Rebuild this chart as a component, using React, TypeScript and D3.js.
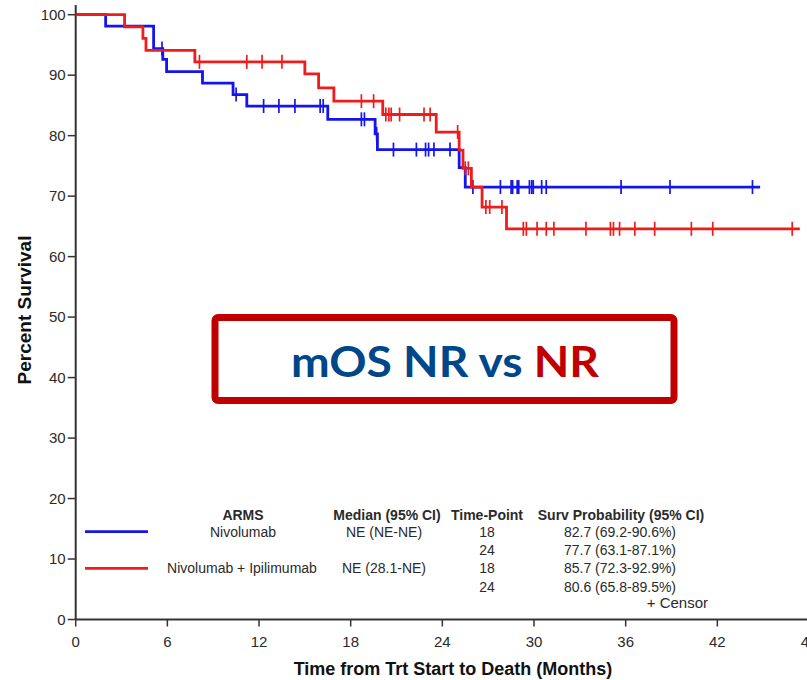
import React from "react";
import * as d3 from "d3";

// Kaplan–Meier overall survival, two treatment arms
const nivoEventTimes = [1.96, 5.1, 5.7, 5.95, 8.3, 10.3, 11.2, 16.5, 19.6, 19.75, 25.1, 25.5];
const nivoEventSurv = [98.1, 94.4, 92.6, 90.6, 88.7, 86.8, 84.9, 82.7, 80.3, 77.7, 74.7, 71.5];
const nivoCensorTimes = [
  5.65, 10.5, 12.3, 13.3, 14.35, 16.0, 16.2, 18.7, 18.9, 19.7, 20.8, 22.3, 22.9, 23.1, 23.45, 24.5,
  26.0, 27.8, 28.5, 28.6, 28.9, 29.0, 29.7, 29.85, 29.95, 30.5, 30.8, 35.7, 38.9, 44.3,
];
const nivoLastFollowUp = 44.8;

const comboEventTimes = [3.2, 4.4, 4.6, 7.8, 15.0, 15.9, 16.9, 20.1, 23.6, 25.1, 25.35, 25.9, 26.6, 28.2];
const comboEventSurv = [98.0, 96.1, 94.1, 92.2, 90.2, 87.9, 85.7, 83.5, 80.6, 77.6, 74.6, 71.5, 68.2, 64.6];
const comboCensorTimes = [
  8.1, 11.2, 12.2, 13.5, 18.7, 19.5, 20.3, 20.5, 20.65, 21.2, 22.8, 23.2, 25.0, 25.5, 25.7, 26.85,
  27.1, 27.9, 29.3, 29.5, 30.2, 30.8, 31.3, 33.4, 35.0, 35.2, 35.6, 36.6, 37.9, 40.3, 41.7, 46.9,
];
const comboLastFollowUp = 47.4;

const xTicks = [0, 6, 12, 18, 24, 30, 36, 42, 48];
const yTicks = [0, 10, 20, 30, 40, 50, 60, 70, 80, 90, 100];

const armNames = ["Nivolumab", "Nivolumab + Ipilimumab"];
const armMedians = ["NE (NE-NE)", "NE (28.1-NE)"];
const timePoints = ["18", "24", "18", "24"];
const survProbs = ["82.7 (69.2-90.6%)", "77.7 (63.1-87.1%)", "85.7 (72.3-92.9%)", "80.6 (65.8-89.5%)"];
const tableHeaders = ["ARMS", "Median (95% CI)", "Time-Point", "Surv Probability (95% CI)"];

const BLUE = "#1414ec";
const RED = "#f01c1c";
const TEXT = "#2a2a2a";
const FONT = "'Liberation Sans', Arial, sans-serif";

const x = d3.scaleLinear().domain([0, 48]).range([75.7, 809]);
const y = d3.scaleLinear().domain([0, 100]).range([619.5, 14.7]);

type Pt = [number, number];

function curvePoints(times: number[], surv: number[], end: number): Pt[] {
  const pts: Pt[] = [[0, 100]];
  times.forEach((t, i) => pts.push([t, surv[i]]));
  pts.push([end, surv[surv.length - 1]]);
  return pts;
}

function survAt(times: number[], surv: number[], t: number): number {
  let s = 100;
  times.forEach((et, i) => {
    if (et <= t) s = surv[i];
  });
  return s;
}

const stepLine = d3
  .line<Pt>()
  .x((d) => x(d[0]))
  .y((d) => y(d[1]))
  .curve(d3.curveStepAfter);

function Arm({
  times,
  surv,
  censors,
  end,
  color,
}: {
  times: number[];
  surv: number[];
  censors: number[];
  end: number;
  color: string;
}) {
  const pts = curvePoints(times, surv, end);
  return (
    <g>
      <path d={stepLine(pts) || ""} fill="none" stroke={color} strokeWidth={2.8} />
      {censors.map((t, i) => {
        const cy = y(survAt(times, surv, t));
        return (
          <line key={i} x1={x(t)} x2={x(t)} y1={cy - 7} y2={cy + 7} stroke={color} strokeWidth={1.7} />
        );
      })}
    </g>
  );
}

export default function App() {
  const rowY = [531.7, 550, 568.3, 586.7];
  return (
    <svg
      width={807}
      height={680}
      style={{ position: "absolute", left: 0, top: 0, background: "#fff" }}
      fontFamily={FONT}
    >
      <rect width={807} height={680} fill="#fff" />

      {/* axes */}
      <line x1={x(0)} x2={x(0)} y1={5} y2={y(0)} stroke="#333" strokeWidth={2} />
      <line x1={x(0)} x2={807} y1={y(0)} y2={y(0)} stroke="#333" strokeWidth={2} />
      {yTicks.map((v) => (
        <g key={v}>
          <line x1={x(0) - 8} x2={x(0)} y1={y(v)} y2={y(v)} stroke="#333" strokeWidth={1.5} />
          <text x={x(0) - 10} y={y(v) + 5} textAnchor="end" fontSize={15} fill={TEXT}>
            {v}
          </text>
        </g>
      ))}
      {xTicks.map((v) => (
        <g key={v}>
          <line x1={x(v)} x2={x(v)} y1={y(0)} y2={y(0) + 7} stroke="#333" strokeWidth={1.5} />
          <text x={x(v)} y={647} textAnchor="middle" fontSize={15} fill={TEXT}>
            {v}
          </text>
        </g>
      ))}
      <text x={453} y={675} textAnchor="middle" fontSize={18} fontWeight="bold" fill="#111">
        Time from Trt Start to Death (Months)
      </text>
      <text
        transform="translate(31,310) rotate(-90)"
        textAnchor="middle"
        fontSize={19}
        fontWeight="bold"
        fill="#111"
      >
        Percent Survival
      </text>

      {/* survival curves */}
      <Arm times={nivoEventTimes} surv={nivoEventSurv} censors={nivoCensorTimes} end={nivoLastFollowUp} color={BLUE} />
      <Arm times={comboEventTimes} surv={comboEventSurv} censors={comboCensorTimes} end={comboLastFollowUp} color={RED} />

      {/* legend table */}
      <g fontSize={14} fill={TEXT}>
        <text x={243} y={520} textAnchor="middle" fontWeight="bold">{tableHeaders[0]}</text>
        <text x={387} y={520} textAnchor="middle" fontWeight="bold">{tableHeaders[1]}</text>
        <text x={487} y={520} textAnchor="middle" fontWeight="bold">{tableHeaders[2]}</text>
        <text x={621} y={520} textAnchor="middle" fontWeight="bold">{tableHeaders[3]}</text>

        <line x1={85} x2={148} y1={rowY[0]} y2={rowY[0]} stroke={BLUE} strokeWidth={2.8} />
        <line x1={85} x2={148} y1={rowY[2]} y2={rowY[2]} stroke={RED} strokeWidth={2.8} />
        <text x={243} y={rowY[0] + 5} textAnchor="middle">{armNames[0]}</text>
        <text x={242} y={rowY[2] + 5} textAnchor="middle">{armNames[1]}</text>
        <text x={384} y={rowY[0] + 5} textAnchor="middle">{armMedians[0]}</text>
        <text x={384} y={rowY[2] + 5} textAnchor="middle">{armMedians[1]}</text>
        {timePoints.map((tp, i) => (
          <text key={"tp" + i} x={487} y={rowY[i] + 5} textAnchor="middle">{tp}</text>
        ))}
        {survProbs.map((sp, i) => (
          <text key={"sp" + i} x={620} y={rowY[i] + 5} textAnchor="middle">{sp}</text>
        ))}
        <text x={708} y={608} textAnchor="end" fontSize={15}>+  Censor</text>
      </g>

      {/* median OS call-out */}
      <rect x={215} y={317.5} width={459} height={83} rx={3} fill="#fff" stroke="#c00000" strokeWidth={7} />
      <text
        transform="translate(445,376.5) scale(1.1,1)"
        textAnchor="middle"
        fontFamily="Lato, 'Open Sans', sans-serif"
        fontWeight="bold"
        fontSize={42}
      >
        <tspan fill="#00468b">mOS NR vs </tspan>
        <tspan fill="#c00000">NR</tspan>
      </text>
    </svg>
  );
}
